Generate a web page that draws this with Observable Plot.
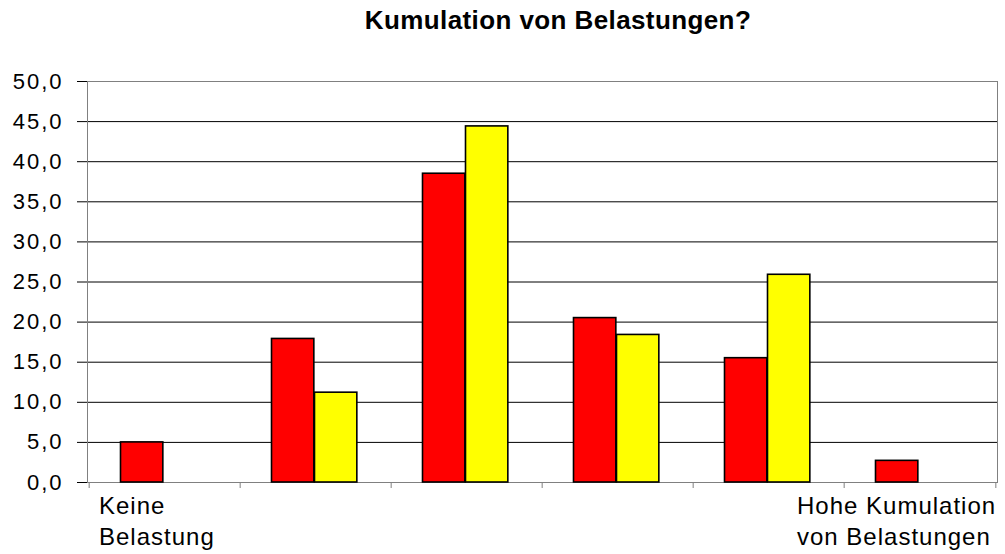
<!DOCTYPE html>
<html><head><meta charset="utf-8">
<script src="https://cdn.jsdelivr.net/npm/d3@7"></script>
<script src="https://cdn.jsdelivr.net/npm/@observablehq/plot@0.6"></script>
<style>
body{margin:0;background:#fff;font-family:"Liberation Sans",Arial,sans-serif;}
#wrap{position:relative;width:1005px;height:554px;overflow:hidden;}
#title{position:absolute;top:5px;left:558px;transform:translateX(-50%);font-weight:bold;font-size:26px;line-height:30px;letter-spacing:0.4px;white-space:nowrap;color:#000;}
#chart{position:absolute;top:60px;left:0;}
#chart svg{font-family:"Liberation Sans",Arial,sans-serif;overflow:visible;}
#chart g[aria-label="y-axis tick label"] text{letter-spacing:2px;}
#chart g.xlab text{letter-spacing:1px;}
</style></head><body>
<div id="wrap"><div id="title">Kumulation von Belastungen?</div><div id="chart"></div></div>
<script>
const categories = ["1", "2", "3", "4", "5", "6"];
const categoryLabels = ["Keine\nBelastung", "", "", "", "", "Hohe Kumulation\nvon Belastungen"];
const seriesRed = [5.0, 17.9, 38.5, 20.5, 15.5, 2.7];
const seriesYellow = [0, 11.2, 44.4, 18.4, 25.9, 0];
const yTicks = [0, 5, 10, 15, 20, 25, 30, 35, 40, 45, 50];

const W = 1005, H = 494;
const mL = 87, mR = 8, mT = 21, mB = 72;
const step = (W - mL - mR) / categories.length;
const barW = 43, outer = 31.5;

const redData = categories.map((c, i) => ({c, v: seriesRed[i]})).filter(d => d.v > 0);
const yelData = categories.map((c, i) => ({c, v: seriesYellow[i]})).filter(d => d.v > 0);
const fmt = d => d.toFixed(1).replace(".", ",");

const chart = Plot.plot({
  width: W, height: H,
  marginLeft: mL, marginRight: mR, marginTop: mT, marginBottom: mB,
  style: {background: "#fff", color: "#000"},
  x: {domain: categories, padding: 0, axis: null},
  y: {domain: [0, 50], axis: null},
  marks: [
    Plot.ruleY(yTicks.filter(d => d > 0 && d < 50), {stroke: "#000", strokeWidth: 1}),
    Plot.frame({stroke: "#808080"}),
    Plot.ruleX(categories, {x: d => d, y1: 0, y2: -0.75, dx: -step / 2, stroke: "#808080"}),
    Plot.ruleX(categories.slice(-1), {x: d => d, y1: 0, y2: -0.75, dx: step / 2, stroke: "#808080"}),
    Plot.barY(redData, {x: "c", y: "v", fill: "#FF0000", stroke: "#000", strokeWidth: 1.6,
      insetLeft: outer, insetRight: step - outer - barW}),
    Plot.barY(yelData, {x: "c", y: "v", fill: "#FFFF00", stroke: "#000", strokeWidth: 1.6,
      insetLeft: outer + barW, insetRight: step - outer - 2 * barW}),
    Plot.axisY({ticks: yTicks, tickFormat: fmt, label: null, tickSize: 10, tickPadding: 14, fontSize: 22, stroke: "#000", fill: "#000"}),
    Plot.text([0], {x: () => categories[0], text: () => categoryLabels[0], frameAnchor: "bottom",
      lineAnchor: "top", textAnchor: "start", dx: -66, dy: 10, fontSize: 24, lineHeight: 1.28, fill: "#000", className: "xlab"}),
    Plot.text([0], {x: () => categories[5], text: () => categoryLabels[5], frameAnchor: "bottom",
      lineAnchor: "top", textAnchor: "start", dx: -123, dy: 10, fontSize: 24, lineHeight: 1.28, fill: "#000", className: "xlab"})
  ]
});
document.getElementById("chart").appendChild(chart);
</script>
</body></html>
